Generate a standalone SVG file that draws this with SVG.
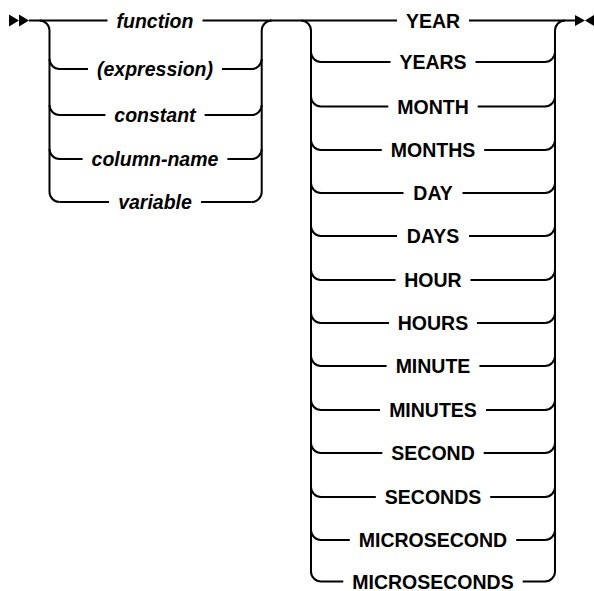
<svg xmlns="http://www.w3.org/2000/svg" width="594" height="591" viewBox="0 0 594 591">
<style>
.rail{fill:none;stroke:#000;stroke-width:2;stroke-linecap:butt}
.mark{fill:#000;stroke:none}
text{font-family:"Liberation Sans",Arial,sans-serif;font-weight:bold;font-size:19.5px;fill:#000;text-anchor:middle}
.var{font-style:italic}
</style>
<rect width="594" height="591" fill="#fff"/>
<g id="connectors">
<polygon class="mark" points="9,14.5 19,20.5 9,26.5"/>
<polygon class="mark" points="19,14.5 29,20.5 19,26.5"/>
<polygon class="mark" points="575,15 585,20.5 575,26"/>
<polygon class="mark" points="594,15 585,20.5 594,26"/>
<path class="rail" d="M29,20.5 H107.5 M202.5,20.5 H397 M469,20.5 H575"/>
<path class="rail" d="M39.5,20.5 A10,10 0 0 1 49.5,30.5 V192 A10,10 0 0 0 59.5,202"/>
<path class="rail" d="M251.7,202 A10,10 0 0 0 261.7,192 V30.5 A10,10 0 0 1 271.7,20.5"/>
<path class="rail" d="M49.5,59 A10,10 0 0 0 59.5,69 H88 M222,69 H251.7 A10,10 0 0 0 261.7,59"/>
<path class="rail" d="M49.5,105 A10,10 0 0 0 59.5,115 H105.4 M204.6,115 H251.7 A10,10 0 0 0 261.7,105"/>
<path class="rail" d="M49.5,149 A10,10 0 0 0 59.5,159 H82.6 M227.4,159 H251.7 A10,10 0 0 0 261.7,149"/>
<path class="rail" d="M59.5,202 H109 M201,202 H251.7"/>
<path class="rail" d="M301,20.5 A10,10 0 0 1 311,30.5 V571.5 A10,10 0 0 0 321,581.5"/>
<path class="rail" d="M545,581.5 A10,10 0 0 0 555,571.5 V30.5 A10,10 0 0 1 565,20.5"/>
<path class="rail" d="M311,52 A10,10 0 0 0 321,62 H390.5 M475.5,62 H545 A10,10 0 0 0 555,52"/>
<path class="rail" d="M311,96.5 A10,10 0 0 0 321,106.5 H388.3 M477.7,106.5 H545 A10,10 0 0 0 555,96.5"/>
<path class="rail" d="M311,140 A10,10 0 0 0 321,150 H381.8 M484.2,150 H545 A10,10 0 0 0 555,140"/>
<path class="rail" d="M311,183 A10,10 0 0 0 321,193 H403.5 M462.5,193 H545 A10,10 0 0 0 555,183"/>
<path class="rail" d="M311,226 A10,10 0 0 0 321,236 H397 M469,236 H545 A10,10 0 0 0 555,226"/>
<path class="rail" d="M311,270 A10,10 0 0 0 321,280 H395.5 M470.5,280 H545 A10,10 0 0 0 555,270"/>
<path class="rail" d="M311,313 A10,10 0 0 0 321,323 H389 M477,323 H545 A10,10 0 0 0 555,313"/>
<path class="rail" d="M311,356 A10,10 0 0 0 321,366 H386.6 M479.4,366 H545 A10,10 0 0 0 555,356"/>
<path class="rail" d="M311,400 A10,10 0 0 0 321,410 H380 M486,410 H545 A10,10 0 0 0 555,400"/>
<path class="rail" d="M311,443 A10,10 0 0 0 321,453 H382.3 M483.7,453 H545 A10,10 0 0 0 555,443"/>
<path class="rail" d="M311,487 A10,10 0 0 0 321,497 H375.8 M490.2,497 H545 A10,10 0 0 0 555,487"/>
<path class="rail" d="M311,530 A10,10 0 0 0 321,540 H349.8 M516.2,540 H545 A10,10 0 0 0 555,530"/>
<path class="rail" d="M321,581.5 H343.3 M522.7,581.5 H545"/>
</g>
<g id="function"><text class="var" x="155" y="27.5">function</text></g>
<g id="expression"><text class="var" x="155" y="76">(expression)</text></g>
<g id="constant"><text class="var" x="155" y="122">constant</text></g>
<g id="column-name"><text class="var" x="155" y="166">column-name</text></g>
<g id="variable"><text class="var" x="155" y="209">variable</text></g>
<g id="YEAR"><text x="433" y="27.5">YEAR</text></g>
<g id="YEARS"><text x="433" y="69">YEARS</text></g>
<g id="MONTH"><text x="433" y="113.5">MONTH</text></g>
<g id="MONTHS"><text x="433" y="157">MONTHS</text></g>
<g id="DAY"><text x="433" y="200">DAY</text></g>
<g id="DAYS"><text x="433" y="243">DAYS</text></g>
<g id="HOUR"><text x="433" y="287">HOUR</text></g>
<g id="HOURS"><text x="433" y="330">HOURS</text></g>
<g id="MINUTE"><text x="433" y="373">MINUTE</text></g>
<g id="MINUTES"><text x="433" y="417">MINUTES</text></g>
<g id="SECOND"><text x="433" y="460">SECOND</text></g>
<g id="SECONDS"><text x="433" y="504">SECONDS</text></g>
<g id="MICROSECOND"><text x="433" y="547">MICROSECOND</text></g>
<g id="MICROSECONDS"><text x="433" y="588.5">MICROSECONDS</text></g>
</svg>
